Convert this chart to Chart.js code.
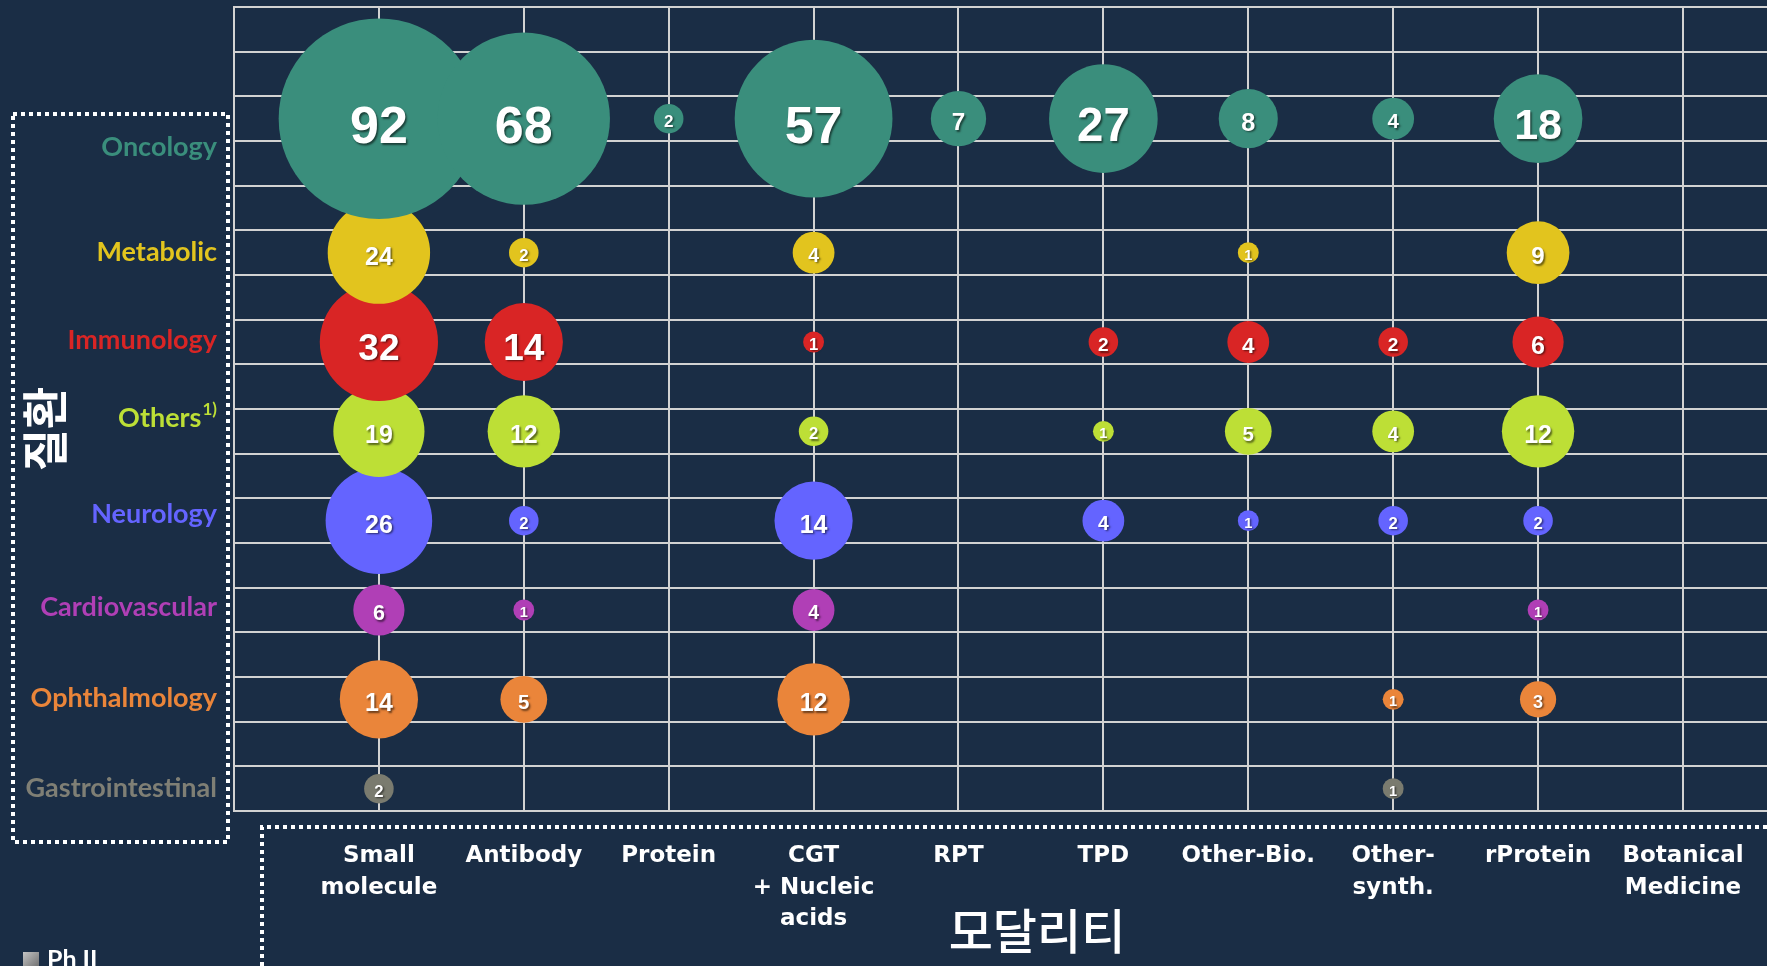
<!DOCTYPE html>
<html>
<head>
<meta charset="utf-8">
<title>질환 × 모달리티</title>
<script src="https://cdn.jsdelivr.net/npm/chart.js@4.4.1/dist/chart.umd.min.js"></script>
<style>
  html, body { margin: 0; padding: 0; background: #1a2d45; overflow: hidden; }
  canvas { display: block; }
</style>
</head>
<body>
<canvas id="pipelineChart" width="1767" height="966"></canvas>
<script>
// pipeline-bubbles: number of assets by disease area (rows) x modality (columns)

const diseases = ['Oncology', 'Metabolic', 'Immunology', 'Others', 'Neurology', 'Cardiovascular', 'Ophthalmology', 'Gastrointestinal'];
// row centre of each disease on the 0-18 grid
const diseaseRows = [2.5, 5.5, 7.5, 9.5, 11.5, 13.5, 15.5, 17.5];
const diseaseColors = ['#3a8e7c', '#e2c41e', '#d92525', '#bddf36', '#6464ff', '#b03fb6', '#ea853a', '#7a7b6f'];
const labelColors = ['#3a8e7c', '#e2c41e', '#d92525', '#bddf36', '#6464ff', '#b03fb6', '#ea853a', '#7f7f75'];

const modalities = [
  ['Small', 'molecule'], ['Antibody'], ['Protein'], ['CGT', '+ Nucleic', 'acids'], ['RPT'],
  ['TPD'], ['Other-Bio.'], ['Other-', 'synth.'], ['rProtein'], ['Botanical', 'Medicine']
];

// counts in modality order, null = no asset
const oncology         = [92, 68, 2, 57, 7, 27, 8, 4, 18, null];
const metabolic        = [24, 2, null, 4, null, null, 1, null, 9, null];
const immunology       = [32, 14, null, 1, null, 2, 4, 2, 6, null];
const others           = [19, 12, null, 2, null, 1, 5, 4, 12, null];
const neurology        = [26, 2, null, 14, null, 4, 1, 2, 2, null];
const cardiovascular   = [6, 1, null, 4, null, null, null, null, 1, null];
const ophthalmology    = [14, 5, null, 12, null, null, null, 1, 3, null];
const gastrointestinal = [2, null, null, null, null, null, null, 1, null, null];

const counts = [oncology, metabolic, immunology, others, neurology, cardiovascular, ophthalmology, gastrointestinal];

const BG = '#1a2d45';
const GRID = '#d2d2d2';
const PLOT_LEFT = 234;
const PLOT_BOTTOM = 811;

// bubble area proportional to count
function bubbleRadius(v) {
  return 10.45 * Math.sqrt(v);
}

function labelSize(row, r) {
  if (row === 0) return r > 40 ? Math.min(52, 0.45 * r + 23) : 0.55 * r + 9;
  if (row === 2) return r > 35 ? 37 : 0.55 * r + 11;
  return Math.min(25, 0.45 * r + 10);
}

const datasets = diseases.map((name, d) => ({
  label: name,
  data: counts[d]
    .map((v, i) => v == null ? null : { x: i + 1, y: diseaseRows[d], r: bubbleRadius(v), v: v })
    .filter(p => p),
  backgroundColor: diseaseColors[d],
  borderWidth: 0,
  clip: false
}));

const backgroundPlugin = {
  id: 'background',
  beforeDraw(chart) {
    const ctx = chart.ctx;
    ctx.save();
    ctx.fillStyle = BG;
    ctx.fillRect(0, 0, chart.width, chart.height);
    ctx.restore();
  }
};

const bubbleLabels = {
  id: 'bubbleLabels',
  afterDatasetsDraw(chart) {
    const ctx = chart.ctx;
    ctx.save();
    ctx.textAlign = 'center';
    ctx.textBaseline = 'middle';
    ctx.fillStyle = '#ffffff';
    ctx.shadowColor = 'rgba(0, 0, 0, 0.55)';
    ctx.shadowOffsetX = 1.5;
    ctx.shadowOffsetY = 1.5;
    ctx.shadowBlur = 2;
    chart.data.datasets.forEach((ds, d) => {
      const meta = chart.getDatasetMeta(d);
      meta.data.forEach((el, j) => {
        const p = ds.data[j];
        const fs = labelSize(d, p.r);
        ctx.font = 'bold ' + fs.toFixed(1) + 'px "Liberation Sans", Arial, sans-serif';
        ctx.fillText(String(p.v), el.x, el.y + fs * 0.2);
      });
    });
    ctx.restore();
  }
};

// row labels, axis titles, dotted frames, legend stub
const rowLabelNudge = [29, 0, -2, -13, -6, -3, -1, 0];

const decorations = {
  id: 'decorations',
  afterDraw(chart) {
    const ctx = chart.ctx;
    const yScale = chart.scales.y;
    const labelRight = chart.chartArea.left - 17;
    ctx.save();

    ctx.textAlign = 'right';
    ctx.textBaseline = 'middle';
    diseases.forEach((name, i) => {
      const y = yScale.getPixelForValue(diseaseRows[i]) + rowLabelNudge[i];
      ctx.fillStyle = labelColors[i];
      if (name === 'Others') {
        ctx.font = 'bold 17px Lato, sans-serif';
        const sw = ctx.measureText('1)').width;
        ctx.fillText('1)', labelRight, y - 9);
        ctx.font = 'bold 27px Lato, sans-serif';
        ctx.fillText(name, labelRight - sw - 1, y);
      } else {
        ctx.font = 'bold 27px Lato, sans-serif';
        ctx.fillText(name, labelRight, y);
      }
    });

    // axis titles
    ctx.fillStyle = '#ffffff';
    ctx.textAlign = 'center';
    ctx.save();
    ctx.translate(45, 429);
    ctx.rotate(-Math.PI / 2);
    ctx.font = 'bold 46px "Noto Sans CJK KR", sans-serif';
    ctx.fillText('질환', 0, 0);
    ctx.restore();
    ctx.font = '500 48px "Noto Sans CJK KR", sans-serif';
    ctx.fillText('모달리티', 1037, 931);

    // dotted frames
    ctx.strokeStyle = '#ffffff';
    ctx.lineWidth = 4;
    ctx.setLineDash([4, 4]);
    ctx.strokeRect(13, 114, 215, 728);
    ctx.beginPath();
    ctx.moveTo(262, 990);
    ctx.lineTo(262, 827);
    ctx.lineTo(1790, 827);
    ctx.stroke();
    ctx.setLineDash([]);

    // legend (cut off at bottom edge)
    const g = ctx.createLinearGradient(23, 952, 39, 968);
    g.addColorStop(0, '#c4c4c4');
    g.addColorStop(1, '#6e6e6e');
    ctx.fillStyle = g;
    ctx.fillRect(23, 952, 16, 16);
    ctx.fillStyle = '#ffffff';
    ctx.textAlign = 'left';
    ctx.textBaseline = 'top';
    ctx.font = 'bold 25px Lato, sans-serif';
    ctx.fillText('Ph II', 47, 947);

    ctx.restore();
  }
};

function createPipelineChart() {
  const el = document.getElementById('pipelineChart');

  new Chart(el, {
    type: 'bubble',
    data: { datasets: datasets },
    options: {
      responsive: false,
      animation: false,
      events: [],
      layout: { autoPadding: false, padding: { top: 7, left: 0, right: 0, bottom: 0 } },
      plugins: {
        legend: { display: false },
        tooltip: { enabled: false }
      },
      scales: {
        x: {
          type: 'linear',
          position: 'bottom',
          min: 0,
          max: 10.58,
          afterFit: (scale) => {
            scale.height = el.height - PLOT_BOTTOM;
            scale.paddingLeft = 0;
            scale.paddingRight = 0;
          },
          grid: { color: GRID, lineWidth: 2, drawTicks: false },
          border: { display: true, color: GRID, width: 2 },
          ticks: {
            stepSize: 1,
            includeBounds: false,
            autoSkip: false,
            maxRotation: 0,
            padding: 30,
            color: '#ffffff',
            font: { family: '"DejaVu Sans", sans-serif', size: 23, weight: 'bold', lineHeight: 1.35 },
            callback: function(value) {
              const label = modalities[Math.round(value) - 1];
              return Number.isInteger(value) && label ? label : '';
            }
          }
        },
        y: {
          type: 'linear',
          reverse: true,
          min: 0,
          max: 18,
          afterFit: (scale) => { scale.width = PLOT_LEFT; },
          grid: { color: GRID, lineWidth: 2, drawTicks: false },
          border: { display: true, color: GRID, width: 2 },
          ticks: { stepSize: 1, display: false }
        }
      }
    },
    plugins: [backgroundPlugin, bubbleLabels, decorations]
  });
}

createPipelineChart();
</script>
</body>
</html>
